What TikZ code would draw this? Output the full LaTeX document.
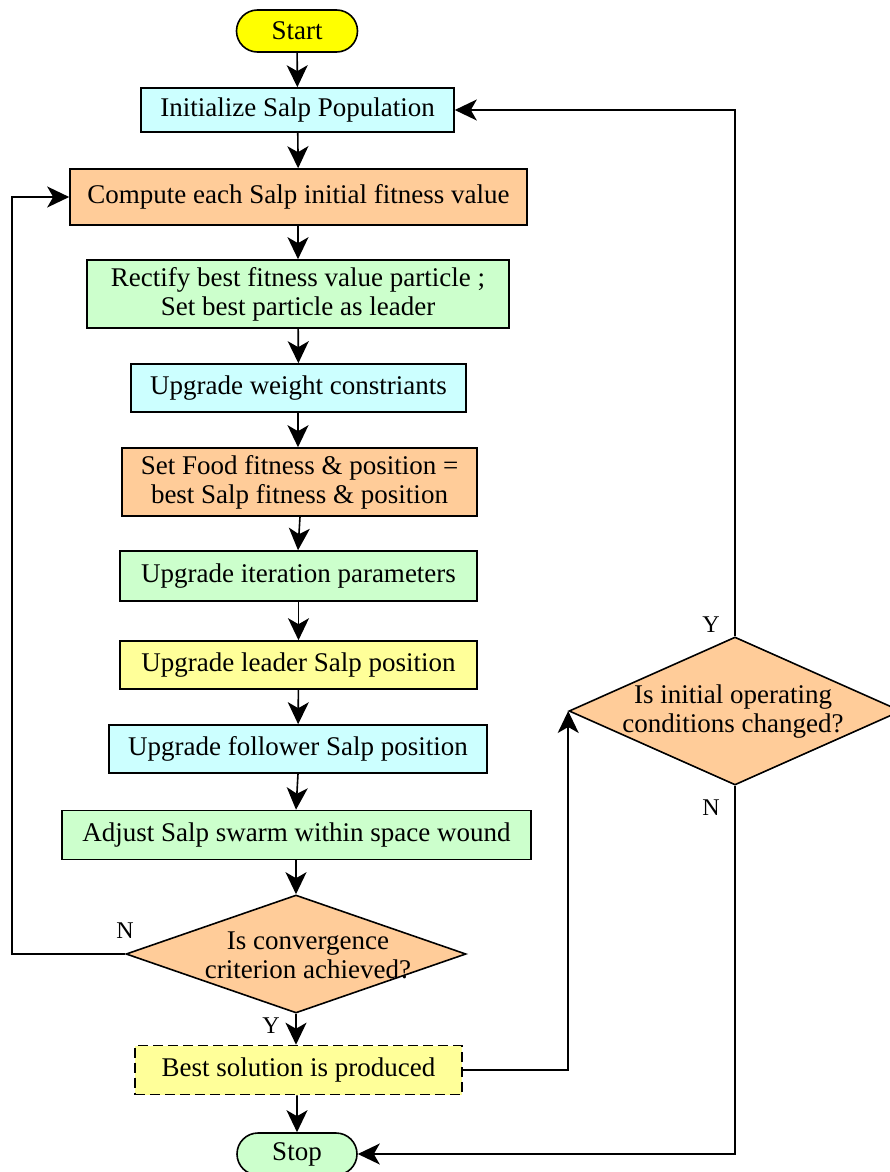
\documentclass[tikz,border=0pt]{standalone}
\usepackage{fontspec}
\setmainfont{Liberation Serif}
\usetikzlibrary{arrows.meta,shapes.geometric,shapes.misc}

\definecolor{cstart}{HTML}{FFFF00}
\definecolor{ccyan}{HTML}{CCFFFF}
\definecolor{corange}{HTML}{FFCC99}
\definecolor{cgreen}{HTML}{CCFFCC}
\definecolor{cyellow}{HTML}{FFFF99}

\tikzset{
  box/.style={draw=black, line width=1.6pt, rectangle, inner sep=0pt, align=center,
    font=\fontsize{27}{29}\selectfont},
  term/.style={draw=black, line width=1.6pt, rounded rectangle, inner sep=0pt,
    font=\fontsize{27}{29}\selectfont},
  decision/.style={draw=black, line width=1.6pt, diamond, inner sep=0pt},
  dtext/.style={align=center, inner sep=0pt, font=\fontsize{27}{29}\selectfont},
  yn/.style={inner sep=0pt, font=\fontsize{24}{26}\selectfont},
  flow/.style={line width=1.6pt, -{Stealth[length=22pt,width=21pt,inset=6pt]}},
}

\begin{document}
\begin{tikzpicture}[x=1pt,y=-1pt]
  \useasboundingbox (0,0) rectangle (890,1172);
  \clip (0,0) rectangle (890,1172);

  % main column
  \node[term, fill=cstart, minimum width=121, minimum height=42] (start) at (297,31) {Start};
  \node[box, fill=ccyan, minimum width=313, minimum height=44] (init) at (297.5,110) {Initialize Salp Population};
  \node[box, fill=corange, minimum width=457, minimum height=56] (compute) at (298.5,197) {Compute each Salp initial fitness value};
  \node[box, fill=cgreen, minimum width=422, minimum height=68] (rectify) at (298,294) {Rectify best fitness value particle ;\\Set best particle as leader};
  \node[box, fill=ccyan, minimum width=335, minimum height=48] (weight) at (298.5,388) {Upgrade weight constriants};
  \node[box, fill=corange, minimum width=355, minimum height=68] (food) at (299.5,482) {Set Food fitness \& position =\\best Salp fitness \& position};
  \node[box, fill=cgreen, minimum width=357, minimum height=50] (iter) at (298.5,576) {Upgrade iteration parameters};
  \node[box, fill=cyellow, minimum width=357, minimum height=48] (leader) at (298.5,665) {Upgrade leader Salp position};
  \node[box, fill=ccyan, minimum width=378, minimum height=48] (follower) at (298,749) {Upgrade follower Salp position};
  \node[box, fill=cgreen, minimum width=469, minimum height=49] (adjust) at (296.5,835) {Adjust Salp swarm within space wound};

  \node[decision, fill=corange, minimum width=340, minimum height=118] (conv) at (296,954) {};
  \node[dtext] (convtext) at (308,955) {Is convergence\\criterion achieved?};

  \node[box, fill=cyellow, dashed, dash pattern=on 10pt off 5pt, minimum width=327, minimum height=49] (best) at (298.5,1070) {Best solution is produced};
  \node[term, fill=cgreen, minimum width=120, minimum height=42] (stop) at (297,1154) {Stop};

  % side decision
  \node[decision, fill=corange, minimum width=332, minimum height=148] (oper) at (735,711) {};
  \node[dtext] (opertext) at (733,712) {Is initial operating\\conditions changed?};

  % straight flow
  \draw[flow] (start) -- (init);
  \draw[flow] (init) -- (compute);
  \draw[flow] (compute.south -| 298,0) -- (rectify.north -| 298,0);
  \draw[flow] (rectify) -- (weight);
  \draw[flow] (weight.south -| 298,0) -- (food.north -| 298,0);
  \draw[flow] (food.south -| 300,0) -- (iter.north -| 298,0);
  \draw[flow] (iter) -- (leader);
  \draw[flow] (leader) -- (follower);
  \draw[flow] (follower.south -| 298,0) -- (adjust.north -| 296,0);
  \draw[flow] (adjust.south -| 296,0) -- (conv.north);
  \draw[flow] (conv.south) -- (best.north -| conv.south);
  \draw[flow] (best.south -| 297,0) -- (stop);

  % loops
  \coordinate (leftrail) at (12,954);
  \draw[flow] (conv.west) -- (leftrail) |- (compute.west);
  \draw[flow] (oper.north) |- (init.east);
  \draw[flow] (best.east) -| (oper.west);
  \draw[flow] (oper.south) |- (stop.east);

  % branch labels
  \node[yn] (ytop) at (711,625) {Y};
  \node[yn] (nside) at (711,808) {N};
  \node[yn] (nleft) at (125,931) {N};
  \node[yn] (ybot) at (271,1026) {Y};
\end{tikzpicture}
\end{document}
